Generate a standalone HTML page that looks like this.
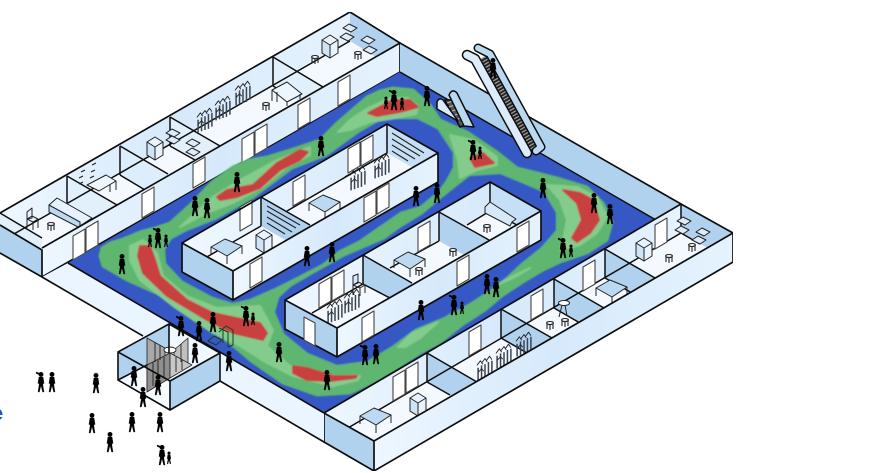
<!DOCTYPE html>
<html><head><meta charset="utf-8"><style>
html,body{margin:0;padding:0;background:#fff;width:884px;height:473px;overflow:hidden}
svg{display:block}
</style></head><body>
<svg width="884" height="473" viewBox="0 0 884 473" xmlns="http://www.w3.org/2000/svg">
<defs>
<linearGradient id="w" x1="0" y1="0" x2="1" y2="0"><stop offset="0" stop-color="#eef7ff"/><stop offset=".5" stop-color="#d6e9fb"/><stop offset="1" stop-color="#e6f3fe"/></linearGradient>
<linearGradient id="w2" x1="0" y1="0" x2="1" y2="0"><stop offset="0" stop-color="#f0f8ff"/><stop offset="1" stop-color="#d6e9fb"/></linearGradient>
<filter id="soft" x="0" y="0" width="100%" height="100%"><feGaussianBlur stdDeviation="0.35"/></filter>
<filter id="heat" x="-5%" y="-5%" width="110%" height="110%"><feGaussianBlur stdDeviation="0.9"/></filter>
<g id="p" fill="#000" stroke="#000" stroke-width=".3"><circle cx="0" cy="-17.6" r="2.3"/><path d="M-2.1,-15 L2.1,-15 L3.1,-8.5 L2,-8.5 L1.9,-7 L3,0 L1.6,0 L0,-6.5 L-1.6,0 L-3,0 L-1.9,-7 L-2,-8.5 L-3.1,-8.5 Z"/></g>
<g id="g" fill="#000"><use href="#p"/><path d="M-2,-19 l-3,-1 l.4,1.6 l2.6,1 Z" stroke="#000" stroke-width=".4"/></g>
<g id="k" fill="#000"><use href="#p" transform="scale(.62)"/></g>
<path id="d" d="M0,0 V-24 L12,-31 V-7 Z" fill="#fff" stroke="#444" stroke-width="1.1"/>
<g id="c" stroke="#222" stroke-width="1"><path d="M-8,-10 L0,-15 L8,-10 L8,3 L0,8 L-8,3 Z" fill="#e8f3fd"/><path d="M-8,-10 L0,-5 L0,8 L-8,3 Z" fill="#cfe4f7"/><path d="M0,-5 L8,-10" fill="none"/></g>
<g id="t" stroke="#222" stroke-width="1" fill="none"><path d="M-16,0 L-2,-8 L15,-1 L0,9 Z" fill="#bcd9f2"/><path d="M-16,0 V8 M0,9 V17 M15,-1 V7"/></g>
<g id="s" stroke="#222" stroke-width="1.1" fill="none"><ellipse cx="0" cy="-6" rx="3.4" ry="1.5" fill="#fff"/><path d="M-3,-5 V0 M0,-4.5 V1 M3,-5 V0"/></g>
<g id="r" fill="none" transform="scale(1.15)"><path d="M-6,9 V-2 M-3,8 V-4 M0,7 V-5 M3,6 V-7 M6,4 V-8" stroke="#3a4450" stroke-width="1.3"/><path d="M-7,-4 l3,-4 l2,3 M-3,-6 l3,-4 l2,3 M1,-8 l3,-4 l2,3 M-6,2 l3,-3 l2,2" stroke="#222" stroke-width=".8"/></g>
<path id="tl" d="M-7,0 L-1,-4 L7,0 L1,4 Z" fill="#dcecfb" stroke="#222" stroke-width="1"/>
</defs>

<g filter="url(#soft)" stroke-linejoin="round">
<text x="-8" y="420" font-family="Liberation Sans, sans-serif" font-size="20" font-weight="bold" fill="#1a5cb0">e</text>

<!-- back row -->
<polygon points="0,213 350,12 400,43 42,248 0,225" fill="#f3f9ff"/>
<polygon points="0,213 350,12 350,41 0,242" fill="url(#w)"/>
<polygon points="350,12 400,43 400,72 350,41" fill="#b0d2ef"/>
<polygon points="0,242 350,41 400,72 68,263 42,262 0,235" fill="#f3f9ff"/>
<polygon points="273,57 323,87 323,116 273,86" fill="#e2f0fc"/>
<polygon points="170,117 220,146 220,175 170,146" fill="#e2f0fc"/>
<polygon points="120,146 168,174 168,203 120,175" fill="#dceefc"/>
<polygon points="67,176 117,205 117,234 67,205" fill="#e2f0fc"/>
<polygon points="0,213 42,237 42,262 0,240" fill="#e2f0fc"/>
<g stroke="#111" stroke-width="1.5" fill="none">
<path d="M0,242 L350,41"/>
<path d="M273,57 L323,87 M273,57 V86 M170,117 L220,146 M170,117 V146 M120,146 L168,174 M120,146 V175 M67,176 L117,205 M67,176 V205 M0,213 L42,238"/>
<path d="M273,86 L290,96 M170,146 L195,160 M120,175 L145,190 M67,205 L85,215"/>
</g>
<use href="#tl" x="350" y="28"/><use href="#tl" x="347" y="37"/><use href="#tl" x="368" y="40"/><use href="#tl" x="370" y="50"/>
<use href="#c" x="330" y="50"/><use href="#s" x="315" y="63"/><use href="#s" x="358" y="59"/>
<use href="#r" x="205" y="122"/><use href="#r" x="223" y="110"/><use href="#r" x="243" y="95"/><use href="#s" x="266" y="110"/>
<g stroke="#222" stroke-width="1" fill="none"><path d="M272,90 L287,82 L302,94 L287,102 Z" fill="#eef6fd"/><path d="M272,90 V101 M287,102 V106 M300,94 V99 M277,92 V102"/></g>
<use href="#tl" x="173" y="133"/><use href="#tl" x="173" y="140"/><use href="#tl" x="193" y="143"/><use href="#tl" x="193" y="152"/><use href="#c" x="155" y="152"/>
<g stroke="#222" stroke-width="1.2" fill="none"><path d="M81,172 l4,-2 M92,165 l4,-2 M79,178 l4,-2 M91,172 l4,-2 M79,184 l4,-2 M90,178 l4,-2"/></g>
<g stroke="#222" stroke-width="1" fill="none"><path d="M87,185 L106,175 L116,181 L99,191 Z" fill="#eef6fd"/><path d="M116,181 V190 M110,184 V192"/></g>
<g stroke="#222" stroke-width="1"><path d="M49,205 L57,198 L92,218 L80,226 L49,210 Z" fill="#e6f2fd"/><path d="M49,205 L80,222 V228 L49,212 Z" fill="#bcd9f2"/></g>
<g stroke="#222" stroke-width="1" fill="none"><path d="M27,219 V212 L32,208 V218 Z" fill="#e6f2fd"/><path d="M27,219 L33,222 L38,219 L32,216 Z M27,219 V228 M33,222 V230 M38,219 V228"/></g>
<use href="#s" x="51" y="230"/>
<!-- left end -->
<polygon points="0,225 42,250 42,277 0,253" fill="#b0d2ef"/>
<polygon points="42,248 400,43 400,72 42,277" fill="url(#w)"/>
<g stroke="#111" stroke-width="1.7" fill="none"><path d="M0,213 L350,12 L400,43 L42,248 M400,43 V72 L42,277 V250 L0,225 M0,253 L42,277"/></g>
<use href="#d" x="338" y="106"/><use href="#d" x="298" y="129"/><use href="#d" x="242" y="163"/><use href="#d" x="255" y="155"/><use href="#d" x="193" y="188"/><use href="#d" x="142" y="218"/><use href="#d" x="73" y="260"/><use href="#d" x="86" y="252"/>

<!-- right back wall + floor -->
<polygon points="400,43 681,204 656,220 400,72" fill="#b0d2ef"/>
<polygon points="400,72 656,220 324,413 68,263" fill="#3558c4"/>
<path d="M400,43 L681,204" stroke="#111" stroke-width="1.7" fill="none"/>
<path d="M400,72 L656,220" stroke="#111" stroke-width="1.5" fill="none"/>

<!-- heat map -->
<g filter="url(#heat)">
<polygon fill="#5fb66f" stroke="#5fb66f" stroke-width="3" points="100,256 102,248 110,243 123,239 140,232 155,228 170,223 190,205 212,182 233,167 250,160 267,157 290,150 320,140 337,123 352,110 367,97 380,91 393,88 413,90 430,105 440,120 467,132 497,152 517,168 557,178 587,187 603,203 612,222 607,240 587,253 560,262 543,270 523,282 503,295 485,310 462,325 442,341 420,353 400,366 375,381 350,393 317,395 283,383 250,360 230,343 197,320 163,296 127,280 103,266"/>
<polygon fill="#3558c4" stroke="#3558c4" stroke-width="2" points="166,250 172,240 187,232 217,220 253,200 293,170 327,157 360,133 383,120 417,120 437,130 452,153 452,167 445,180 438,190 420,205 400,211 358,240 338,250 322,263 295,277 275,287 250,298 233,302 213,296 183,280 167,263"/>
<polygon fill="#3558c4" stroke="#3558c4" stroke-width="2" points="400,229 385,240 345,257 318,272 292,287 280,298 276,312 285,333 308,352 337,364 367,360 392,345 415,328 442,317 468,303 488,290 505,277 520,263 540,247 555,230 555,213 543,193 517,182 500,175 470,177 457,187 437,203 423,215"/>
<g fill="#84cc8c" stroke="#84cc8c" stroke-width="2">
<polygon points="338,132 350,120 368,108 390,98 408,98 418,106 416,114 395,118 370,122 350,130"/>
<polygon points="180,227 213,197 240,180 277,160 310,147 310,155 287,167 263,187 233,203 207,213"/>
<polygon points="450,135 473,140 497,157 497,165 477,170 460,178 458,160"/>
<polygon points="547,185 577,187 597,197 607,217 597,233 580,245 560,250 563,240 567,220 560,200"/>
<polygon points="398,347 412,333 438,322 420,338 405,347"/>
<polygon points="497,285 513,276 530,268 513,278"/>
<polygon points="130,246 143,240 157,253 163,276 187,296 217,308 260,306 273,330 267,346 290,366 333,380 360,376 358,380 333,386 293,376 267,363 240,346 213,333 173,306 140,280 130,260"/>
</g>
<g fill="#c84040" stroke="#c84040" stroke-width="2">
<polygon points="368,113 393,100 410,100 418,107 400,112 377,116"/>
<polygon points="217,197 227,190 253,185 277,163 300,150 308,152 300,160 280,170 260,188 237,197 220,200"/>
<polygon points="470,158 483,153 494,163 475,167"/>
<polygon points="563,190 580,193 593,200 599,220 590,233 577,242 572,238 582,220 577,203"/>
<polygon points="140,246 150,246 155,260 160,276 187,300 213,313 260,323 267,333 263,340 233,333 207,320 167,296 143,273 138,256"/>
<polygon points="293,366 307,368 333,376 357,376 355,378 330,381 307,380 293,373"/>
</g>
</g>

<!-- small escalator -->
<g stroke="#111" stroke-width="1.5">
<polygon points="445,100 453,100 470,124 460,127" fill="#555"/>
<path d="M447,103 l6,-2 M449,107 l6,-2 M452,111 l6,-2 M455,115 l6,-2 M458,119 l6,-2 M461,123 l6,-2" stroke="#bbb" stroke-width="1"/>
<path d="M437,109 V102 Q439,97 443,100 L458,121 Z" fill="#d8ebfb"/>
<path d="M449,95 Q452,88 457,93 L474,127 L464,126 Z" fill="#bcd9f2"/>
</g>
<!-- big escalator -->
<path d="M482,58 L535,151" stroke="#222" stroke-width="9" fill="none"/>
<path d="M482,58 L535,151" stroke="#9a9a9a" stroke-width="8" fill="none" stroke-dasharray="1.3 1.8"/>
<path d="M478,48 L490,54 L541,147 L536,151" stroke="#111" stroke-width="9" stroke-linecap="round" fill="none"/>
<path d="M478,48 L490,54 L541,147 L536,151" stroke="#bcd9f2" stroke-width="6" stroke-linecap="round" fill="none"/>
<path d="M467,55 L475,59 L527,153" stroke="#111" stroke-width="10.5" stroke-linecap="round" fill="none"/>
<path d="M467,55 L475,59 L527,153" stroke="#dcecfb" stroke-width="7.5" stroke-linecap="round" fill="none"/>
<use href="#p" x="493" y="78"/>

<!-- island 1 -->
<polygon points="182,243 387,124 438,153 233,271" fill="#f3f9ff"/>
<polygon points="182,243 387,124 387,153 182,272" fill="url(#w2)"/>
<polygon points="387,124 438,153 438,182 387,153" fill="#c4dff6"/>
<polygon points="261,197 310,225 310,254 261,226" fill="#b0d2ef"/>
<g stroke="#222" stroke-width="1.1" fill="none">
<path d="M267,211 L296,228 M267,217 L292,232 M267,223 L285,234 M267,206 L300,225"/>
<path d="M392,139 L420,156 M392,145 L415,159 M392,151 L408,161 M392,133 L424,153"/>
</g>
<g stroke="#111" stroke-width="1.5" fill="none">
<path d="M387,124 V153 L345,177 M261,197 V226 M387,153 L287,211 M261,226 L205,258"/>
<path d="M261,197 L310,225"/>
</g>
<use href="#d" x="348" y="173"/><use href="#d" x="361" y="166"/><use href="#d" x="293" y="206"/><use href="#d" x="240" y="231"/>
<use href="#r" x="358" y="180"/><use href="#r" x="382" y="168"/>
<use href="#t" x="325" y="203"/><use href="#t" x="227" y="247"/><use href="#c" x="264" y="245"/>
<polygon points="233,271 438,153 438,182 233,300" fill="url(#w)"/>
<polygon points="182,243 233,271 233,300 182,272" fill="#b0d2ef"/>
<path d="M182,243 L387,124 L438,153 L233,271 Z M182,243 V272 L233,300 V271 M233,300 L438,182 V153" stroke="#111" stroke-width="1.7" fill="none"/>
<use href="#d" x="364" y="222"/><use href="#d" x="377" y="214"/><use href="#d" x="250" y="288"/>

<!-- island 2 -->
<polygon points="285,300 490,182 541,211 337,328" fill="#f3f9ff"/>
<polygon points="285,300 490,182 490,211 285,329" fill="url(#w2)"/>
<polygon points="490,182 541,211 541,240 490,211" fill="#c4dff6"/>
<polygon points="363,255 412,283 412,312 363,284" fill="#b0d2ef"/>
<polygon points="439,212 489,240 489,269 439,241" fill="#b0d2ef"/>
<g stroke="#111" stroke-width="1.5" fill="none">
<path d="M490,182 V211 L467,225 M439,212 V241 M490,211 L517,225 M439,241 L390,268 M363,255 V284 L312,313 M363,284 L390,298"/>
<path d="M439,212 L489,240 M363,255 L412,283"/>
</g>
<use href="#d" x="418" y="252"/>
<use href="#d" x="319" y="308"/><use href="#d" x="332" y="301"/>
<polygon points="485,207 490,202 516,219 512,222 510,226 485,213" fill="#d6e9fb" stroke="#222" stroke-width="1"/>
<use href="#s" x="487" y="232"/>
<use href="#t" x="410" y="260"/><use href="#s" x="419" y="275"/><use href="#s" x="453" y="256"/>
<g stroke="#222" stroke-width="1" fill="none"><path d="M353,285 V276 L358,274 V283 Z" fill="#d6e9fb"/><path d="M353,285 L360,288 L365,285 L358,282 Z M353,285 V295 M360,288 V296 M365,285 V293"/></g>
<use href="#r" x="335" y="313"/><use href="#r" x="352" y="303"/>
<polygon points="337,328 541,211 541,240 337,357" fill="url(#w)"/>
<polygon points="285,300 337,328 337,357 285,329" fill="#b0d2ef"/>
<path d="M285,300 L490,182 L541,211 L337,328 Z M285,300 V329 L337,357 V328 M337,357 L541,240 V211" stroke="#111" stroke-width="1.7" fill="none"/>
<polygon points="304,317 315,323 315,346 304,340" fill="#fff" stroke="#444" stroke-width="1.1"/>
<use href="#d" x="362" y="342"/><use href="#d" x="457" y="286"/><use href="#d" x="517" y="252"/>

<!-- front row -->
<polygon points="324,413 681,204 733,233 374,441" fill="#f3f9ff"/>
<polygon points="324,413 681,204 681,233 324,442" fill="url(#w)"/>
<polygon points="681,204 733,233 733,262 681,233" fill="#b0d2ef"/>
<polygon points="427,353 477,382 477,411 427,382" fill="#b0d2ef"/>
<polygon points="501,309 552,338 552,367 501,338" fill="#b0d2ef"/>
<polygon points="554,279 604,308 604,337 554,308" fill="#b0d2ef"/>
<polygon points="605,249 655,278 655,307 605,278" fill="#b0d2ef"/>
<g stroke="#111" stroke-width="1.5" fill="none">
<path d="M324,442 L681,233 V204 M427,353 V382 L450,395 M501,309 V338 L527,353 M554,279 V308 L580,323 M605,249 V278 L632,293"/>
<path d="M427,353 L477,382 M501,309 L552,338 M554,279 L604,308 M605,249 L655,278"/>
<path d="M681,233 L700,244"/>
</g>
<use href="#d" x="393" y="401"/><use href="#d" x="406" y="393"/><use href="#d" x="469" y="356"/><use href="#d" x="531" y="320"/><use href="#d" x="583" y="291"/><use href="#d" x="655" y="249"/>
<use href="#t" x="376" y="416"/><use href="#c" x="418" y="408"/>
<use href="#r" x="485" y="370"/><use href="#r" x="504" y="358"/><use href="#r" x="524" y="346"/>
<use href="#s" x="550" y="329"/><use href="#s" x="565" y="326"/>
<g stroke="#222" stroke-width="1" fill="none"><ellipse cx="564" cy="303" rx="5.5" ry="2.5" fill="#fff"/><path d="M562,305 L559,317 M565,305 L567,316"/></g>
<use href="#t" x="612" y="288"/><use href="#c" x="644" y="253"/><use href="#s" x="669" y="262"/><use href="#s" x="692" y="251"/>
<use href="#tl" x="684" y="221"/><use href="#tl" x="682" y="230"/><use href="#tl" x="703" y="232"/><use href="#tl" x="699" y="240"/>
<polygon points="374,441 733,233 733,262 374,471" fill="url(#w)"/>
<polygon points="324,413 374,441 374,471 324,442" fill="#b0d2ef"/>
<path d="M324,413 L681,204 L733,233 L374,441 Z M324,413 V442 L374,471 V441 M374,471 L733,262 V233" stroke="#111" stroke-width="1.7" fill="none"/>

<!-- facade -->
<polygon points="42,277 68,263 324,413 324,442" fill="#eaf5ff"/>
<path d="M68,263 L324,413 M42,277 L143,336 M220,381 L324,442" stroke="#111" stroke-width="1.6" fill="none"/>

<!-- entrance -->
<polygon points="118,380 169,353 220,381 170,410" fill="#f5faff"/>
<polygon points="118,352 169,324 169,353 118,380" fill="#b0d2ef"/>
<polygon points="169,324 220,353 220,381 169,353" fill="#f0f8ff"/>
<polygon points="147,338 165,348 165,364 147,390" fill="#a8a8a8" stroke="#222" stroke-width=".8"/>
<polygon points="174,350 188,338 188,364 174,364" fill="#c0c0c0" stroke="#222" stroke-width=".8"/>
<polygon points="147,365 170,353 170,378 147,392" fill="#8f8f8f" stroke="#222" stroke-width=".8"/>
<polygon points="170,353 192,365 170,378" fill="#c8c8c8" stroke="#222" stroke-width=".8"/>
<g stroke="#222" stroke-width=".9"><path d="M155,342 V362 M160,345 V360 M181,344 V362 M153,362 V386 M158,360 V383 M164,357 V378 M176,357 V372 M182,360 V370"/></g>
<ellipse cx="170" cy="350" rx="6" ry="3" fill="#fff" stroke="#222" stroke-width=".9"/>
<polygon points="170,381 220,353 220,381 170,410" fill="#b0d2ef"/>
<path d="M118,352 L169,324 V353 M169,324 L220,353 L170,381 L118,352 V380 L170,410 V381 M170,410 L220,381 V353 M118,380 L147,365" stroke="#111" stroke-width="1.6" fill="none"/>
<!-- gate -->
<g stroke="#1d3b2a" stroke-width="1" fill="none">
<path d="M219,332 L226,326 L233,330 V345 L228,347 V332 L219,328"/>
<path d="M223,330 V343 M208,341 L214,336 L222,340 L216,345 Z"/>
</g>

<!-- people -->
<use href="#p" x="195" y="216"/><use href="#p" x="207" y="218"/><use href="#p" x="237" y="192"/><use href="#p" x="321" y="156"/>
<use href="#g" x="394" y="110"/><use href="#k" x="386" y="109"/><use href="#k" x="402" y="110"/>
<use href="#p" x="427" y="106"/><use href="#g" x="473" y="160"/><use href="#k" x="480" y="159"/>
<use href="#p" x="543" y="198"/><use href="#p" x="594" y="213"/><use href="#p" x="610" y="224"/>
<use href="#g" x="563" y="258"/><use href="#k" x="571" y="257"/>
<use href="#p" x="416" y="206"/><use href="#p" x="437" y="203"/>
<use href="#p" x="307" y="266"/><use href="#p" x="332" y="262"/>
<use href="#p" x="421" y="320"/><use href="#g" x="454" y="315"/><use href="#k" x="462" y="314"/>
<use href="#p" x="487" y="294"/><use href="#p" x="496" y="297"/>
<use href="#g" x="365" y="365"/><use href="#p" x="376" y="364"/>
<use href="#p" x="122" y="274"/><use href="#g" x="158" y="248"/><use href="#k" x="150" y="247"/><use href="#k" x="166" y="247"/>
<use href="#p" x="279" y="362"/><use href="#p" x="327" y="390"/>
<use href="#g" x="246" y="326"/><use href="#k" x="253" y="325"/>
<use href="#p" x="213" y="332"/><use href="#g" x="181" y="336"/><use href="#p" x="199" y="341"/><use href="#p" x="195" y="363"/><use href="#p" x="229" y="371"/>
<use href="#p" x="134" y="386"/><use href="#p" x="158" y="395"/><use href="#p" x="143" y="407"/>
<use href="#g" x="41" y="392"/><use href="#p" x="52" y="392"/><use href="#p" x="96" y="393"/>
<use href="#p" x="92" y="433"/><use href="#p" x="132" y="432"/><use href="#p" x="160" y="432"/><use href="#p" x="110" y="452"/>
<use href="#g" x="162" y="465"/><use href="#k" x="169" y="464"/>
</g>
</svg>
</body></html>
